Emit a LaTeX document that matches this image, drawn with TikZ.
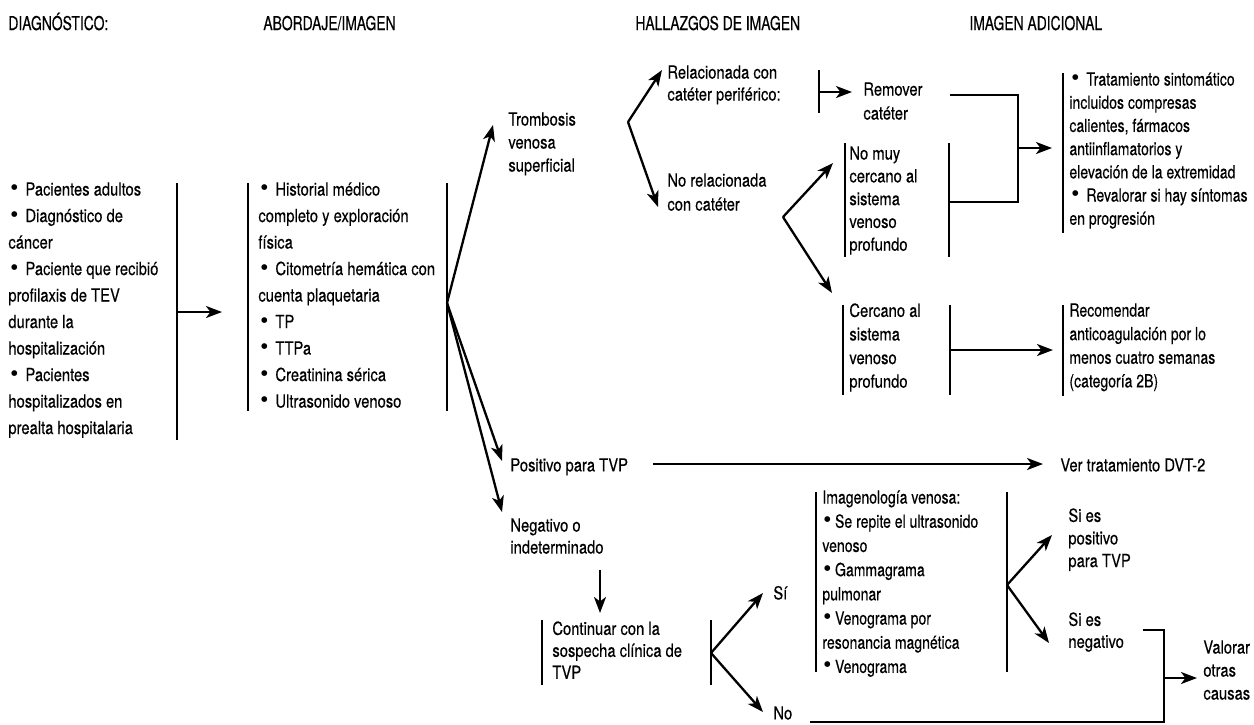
\documentclass[tikz,border=0pt]{standalone}
\usepackage{fontspec}
\setmainfont{TeX Gyre Heros}[FakeStretch=0.82,FakeBold=0.35]
\newfontfamily\headfont{TeX Gyre Heros}[FakeStretch=0.73,FakeBold=0.35]
\newfontfamily\narrowfont{TeX Gyre Heros}[FakeStretch=0.78,FakeBold=0.35]
\newfontfamily\dotfont{TeX Gyre Heros}
\usetikzlibrary{arrows.meta}
% bullet marks for list items
\newcommand\bdot{{\dotfont\fontsize{11.5}{0}\selectfont\textbullet}}
\newcommand\bl{\hspace*{1pt}\bdot\hspace{3.5pt}}
\newcommand\bls{\hspace*{0.5pt}\bdot\hspace{1.8pt}}

\begin{document}
\begin{tikzpicture}[x=0.5pt,y=-0.5pt,
  txt/.style={anchor=north west, inner sep=0pt, align=left,
    font=\fontsize{9}{#1}\selectfont,
    execute at begin node={\rule{0pt}{7pt}}},
  txt/.default=13.25pt,
  ntxt/.style={txt=#1, font=\narrowfont\fontsize{9}{#1}\selectfont},
  head/.style={anchor=base west, inner sep=0pt,
    font=\headfont\fontsize{9.5}{11}\selectfont},
  bar/.style={line width=1.4pt},
  link/.style={line width=1.2pt},
  arr/.style={line width=1.15pt,
    -{Stealth[length=8pt,width=6pt,inset=2.2pt]}}]
\useasboundingbox (0,0) rectangle (1254,724);

% column headings
\node[head] (h1) at (8,30)   {DIAGNÓSTICO:};
\node[head] (h2) at (263,30) {ABORDAJE/IMAGEN};
\node[head] (h3) at (635,30) {HALLAZGOS DE IMAGEN};
\node[head] (h4) at (969,30) {IMAGEN ADICIONAL};

% text blocks
\node[txt] (diag) at (8,182) {\bl Pacientes adultos\\ \bl Diagnóstico de\\ cáncer\\
  \bl Paciente que recibió\\ profilaxis de TEV\\ durante la\\ hospitalización\\
  \bl Pacientes\\ hospitalizados en\\ prealta hospitalaria};
\node[txt] (abord) at (258,182) {\bl Historial médico\\ completo y exploración\\ física\\
  \bl Citometría hemática con\\ cuenta plaquetaria\\ \bl TP\\ \bl TTPa\\
  \bl Creatinina sérica\\ \bl Ultrasonido venoso};
\node[txt=11.5pt] (tvs) at (508,112) {Trombosis\\ venosa\\ superficial};
\node[txt=11pt] (rel) at (667,65) {Relacionada con\\ catéter periférico:};
\node[txt=12pt] (norel) at (667,173) {No relacionada\\ con catéter};
\node[txt=12pt] (rem) at (863,82) {Remover\\ catéter};
\node[txt=11.4pt] (nomuy) at (849,146) {No muy\\ cercano al\\ sistema\\ venoso\\ profundo};
\node[txt=11.8pt] (cerca) at (849,303) {Cercano al\\ sistema\\ venoso\\ profundo};
\node[ntxt=11.6pt] (trat) at (1069,72) {\bl Tratamiento sintomático\\ incluidos compresas\\
  calientes, fármacos\\ antiinflamatorios y\\ elevación de la extremidad\\
  \bl Revalorar si hay síntomas\\ en progresión};
\node[ntxt=11.8pt] (recom) at (1069,303) {Recomendar\\ anticoagulación por lo\\
  menos cuatro semanas\\ (categoría 2B)};
\node[txt] (pos) at (510,457) {Positivo para TVP};
\node[txt] (ver) at (1060,457) {Ver tratamiento DVT-2};
\node[txt=11pt] (neg) at (510,518) {Negativo o\\ indeterminado};
\node[txt=11pt] (cont) at (552,621) {Continuar con la\\ sospecha clínica de\\ TVP};
\node[txt] (si) at (773,585) {Sí};
\node[txt] (no) at (773,705) {No};
\node[ntxt=12.1pt] (imag) at (822,490) {Imagenología venosa:\\ \bls Se repite el ultrasonido\\
  venoso\\ \bls Gammagrama\\ pulmonar\\ \bls Venograma por\\
  resonancia magnética\\ \bls Venograma};
\node[txt=11.3pt] (sipos) at (1068,508) {Si es\\ positivo\\ para TVP};
\node[txt=11pt] (sineg) at (1068,612) {Si es\\ negativo};
\node[txt=11.5pt] (valor) at (1203,640) {Valorar\\ otras\\ causas};

% vertical bars beside the blocks
\draw[bar] (177,183) -- (177,440);
\draw[bar] (248,183) -- (248,411);
\draw[bar] (447,183) -- (447,411);
\draw[bar] (819,70) -- (819,113);
\draw[bar] (845,143) -- (845,257);
\draw[bar] (949,143) -- (949,257);
\draw[bar] (843,305) -- (843,395);
\draw[bar] (950,305) -- (950,395);
\draw[bar] (1063,73) -- (1063,233);
\draw[bar] (1063,305) -- (1063,396);
\draw[bar] (542,620) -- (542,685);
\draw[bar] (711,620) -- (711,685);
\draw[bar] (816,492) -- (816,672);
\draw[bar] (1007,492) -- (1007,672);

% connector points
\coordinate (dOut) at (177,312);  \coordinate (aIn)  at (222,312);
\coordinate (aOut) at (447,303);
\coordinate (tvsIn) at (493,125); \coordinate (posIn) at (502,461);
\coordinate (negIn) at (502,512);
\coordinate (tvsOut) at (628,122);
\coordinate (relIn) at (662,70);  \coordinate (norelIn) at (658,207);
\coordinate (relOut) at (819,92); \coordinate (remIn) at (852,92);
\coordinate (remOut) at (950,95); \coordinate (jTop) at (1018,95);
\coordinate (nomuyOut) at (949,202); \coordinate (jBot) at (1018,202);
\coordinate (jMid) at (1018,148); \coordinate (tratIn) at (1052,148);
\coordinate (norelOut) at (783,217);
\coordinate (nomuyIn) at (833,163); \coordinate (cercaIn) at (832,293);
\coordinate (cercaOut) at (950,350); \coordinate (recomIn) at (1053,350);
\coordinate (posOut) at (653,464); \coordinate (verIn) at (1043,464);
\coordinate (negOut) at (600,570); \coordinate (contIn) at (600,613);
\coordinate (contOut) at (711,653);
\coordinate (siIn) at (763,593);  \coordinate (noIn) at (763,712);
\coordinate (imagOut) at (1007,585);
\coordinate (siposIn) at (1052,535); \coordinate (sinegIn) at (1049,643);
\coordinate (noOut) at (810,722); \coordinate (sinegOut) at (1143,630);
\coordinate (kTop) at (1164,630); \coordinate (kBot) at (1164,722);
\coordinate (kMid) at (1164,678); \coordinate (valorIn) at (1197,678);

% connectors
\draw[arr] (dOut) -- (aIn);
\draw[arr] (aOut) -- (tvsIn);
\draw[arr] (aOut) -- (posIn);
\draw[arr] (aOut) -- (negIn);
\draw[arr] (tvsOut) -- (relIn);
\draw[arr] (tvsOut) -- (norelIn);
\draw[arr] (relOut) -- (remIn);
\draw[link] (remOut) -- (jTop) -- (jBot) -- (nomuyOut);
\draw[arr] (jMid) -- (tratIn);
\draw[arr] (norelOut) -- (nomuyIn);
\draw[arr] (norelOut) -- (cercaIn);
\draw[arr] (cercaOut) -- (recomIn);
\draw[arr] (posOut) -- (verIn);
\draw[arr] (negOut) -- (contIn);
\draw[arr] (contOut) -- (siIn);
\draw[arr] (contOut) -- (noIn);
\draw[arr] (imagOut) -- (siposIn);
\draw[arr] (imagOut) -- (sinegIn);
\draw[link] (sinegOut) -- (kTop) -- (kBot) -- (noOut);
\draw[arr] (kMid) -- (valorIn);
\end{tikzpicture}
\end{document}
